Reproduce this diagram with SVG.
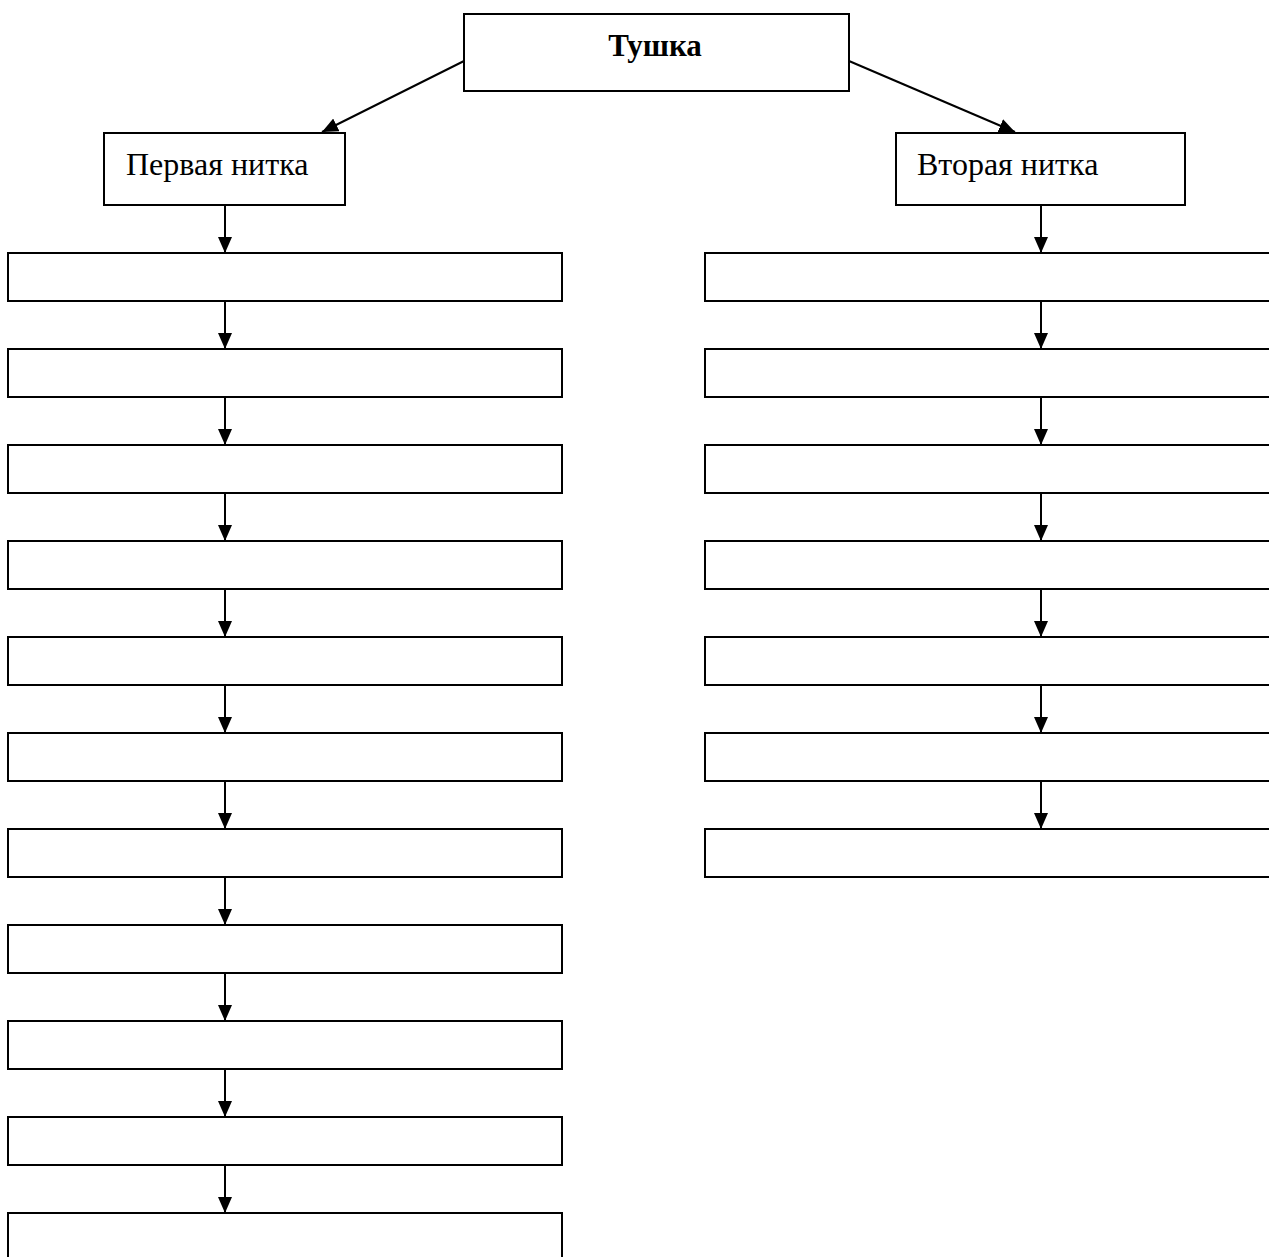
<svg xmlns="http://www.w3.org/2000/svg" width="1269" height="1257" viewBox="0 0 1269 1257">
  <style>
    .box { fill: #fff; stroke: #000; stroke-width: 2; }
    .lbl { font-family: "Liberation Serif", "Times New Roman", serif; font-size: 32px; fill: #000; }
    .title { font-weight: bold; font-size: 31px; text-anchor: middle; }
    .edge { stroke: #000; stroke-width: 2; fill: none; marker-end: url(#arrow); }
  </style>
  <defs>
    <marker id="arrow" markerUnits="userSpaceOnUse" markerWidth="16" markerHeight="14" refX="16" refY="7" orient="auto">
      <path d="M0,0 L16,7 L0,14 Z" fill="#000"/>
    </marker>
  </defs>

  <rect width="1269" height="1257" fill="#fff"/>

  <!-- connectors -->
  <g id="connectors">
    <line class="edge" x1="464" y1="61" x2="322" y2="132"/>
    <line class="edge" x1="849" y1="61" x2="1015" y2="132"/>
    <!-- first thread chain -->
    <line class="edge" x1="225" y1="205" x2="225" y2="253"/>
    <line class="edge" x1="225" y1="301" x2="225" y2="349"/>
    <line class="edge" x1="225" y1="397" x2="225" y2="445"/>
    <line class="edge" x1="225" y1="493" x2="225" y2="541"/>
    <line class="edge" x1="225" y1="589" x2="225" y2="637"/>
    <line class="edge" x1="225" y1="685" x2="225" y2="733"/>
    <line class="edge" x1="225" y1="781" x2="225" y2="829"/>
    <line class="edge" x1="225" y1="877" x2="225" y2="925"/>
    <line class="edge" x1="225" y1="973" x2="225" y2="1021"/>
    <line class="edge" x1="225" y1="1069" x2="225" y2="1117"/>
    <line class="edge" x1="225" y1="1165" x2="225" y2="1213"/>
    <!-- second thread chain -->
    <line class="edge" x1="1041" y1="205" x2="1041" y2="253"/>
    <line class="edge" x1="1041" y1="301" x2="1041" y2="349"/>
    <line class="edge" x1="1041" y1="397" x2="1041" y2="445"/>
    <line class="edge" x1="1041" y1="493" x2="1041" y2="541"/>
    <line class="edge" x1="1041" y1="589" x2="1041" y2="637"/>
    <line class="edge" x1="1041" y1="685" x2="1041" y2="733"/>
    <line class="edge" x1="1041" y1="781" x2="1041" y2="829"/>
  </g>

  <!-- root -->
  <g id="node-root">
    <rect class="box" x="464" y="14" width="385" height="77"/>
    <text class="lbl title" x="655" y="56">Тушка</text>
  </g>

  <!-- branch heads -->
  <g id="node-thread1">
    <rect class="box" x="104" y="133" width="241" height="72"/>
    <text class="lbl" x="126" y="175">Первая нитка</text>
  </g>
  <g id="node-thread2">
    <rect class="box" x="896" y="133" width="289" height="72"/>
    <text class="lbl" x="917" y="175">Вторая нитка</text>
  </g>

  <!-- first thread steps -->
  <g id="node-l1"><rect class="box" x="8" y="253" width="554" height="48"/></g>
  <g id="node-l2"><rect class="box" x="8" y="349" width="554" height="48"/></g>
  <g id="node-l3"><rect class="box" x="8" y="445" width="554" height="48"/></g>
  <g id="node-l4"><rect class="box" x="8" y="541" width="554" height="48"/></g>
  <g id="node-l5"><rect class="box" x="8" y="637" width="554" height="48"/></g>
  <g id="node-l6"><rect class="box" x="8" y="733" width="554" height="48"/></g>
  <g id="node-l7"><rect class="box" x="8" y="829" width="554" height="48"/></g>
  <g id="node-l8"><rect class="box" x="8" y="925" width="554" height="48"/></g>
  <g id="node-l9"><rect class="box" x="8" y="1021" width="554" height="48"/></g>
  <g id="node-l10"><rect class="box" x="8" y="1117" width="554" height="48"/></g>
  <g id="node-l11"><rect class="box" x="8" y="1213" width="554" height="60"/></g>

  <!-- second thread steps -->
  <g id="node-r1"><rect class="box" x="705" y="253" width="580" height="48"/></g>
  <g id="node-r2"><rect class="box" x="705" y="349" width="580" height="48"/></g>
  <g id="node-r3"><rect class="box" x="705" y="445" width="580" height="48"/></g>
  <g id="node-r4"><rect class="box" x="705" y="541" width="580" height="48"/></g>
  <g id="node-r5"><rect class="box" x="705" y="637" width="580" height="48"/></g>
  <g id="node-r6"><rect class="box" x="705" y="733" width="580" height="48"/></g>
  <g id="node-r7"><rect class="box" x="705" y="829" width="580" height="48"/></g>
</svg>
